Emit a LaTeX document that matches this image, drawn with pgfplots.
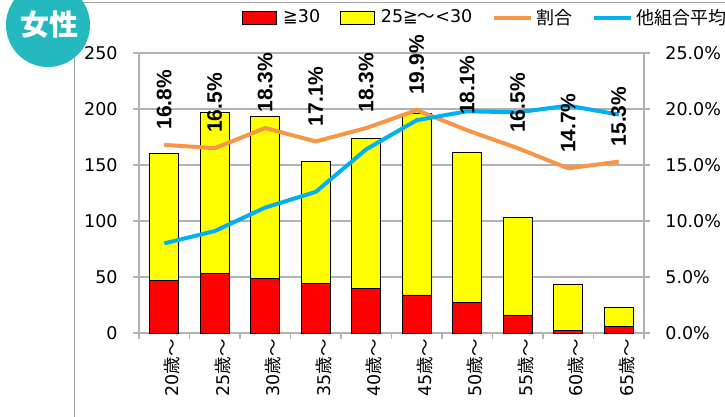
\documentclass[border=0pt]{standalone}
\usepackage{pgfplots}
\usepackage{pgfplotstable}
\pgfplotsset{compat=1.18}
\usepackage{fontspec}
\setmainfont{DejaVu Sans}
\newfontfamily\jp{Noto Sans CJK JP}
\newfontfamily\lab{Liberation Sans}
\definecolor{redbar}{RGB}{255,0,0}
\definecolor{yelbar}{RGB}{255,255,0}
\definecolor{orng}{RGB}{247,150,70}
\definecolor{skyb}{RGB}{0,176,240}
\definecolor{badge}{RGB}{35,185,190}
\definecolor{gridg}{RGB}{178,178,178}
\definecolor{frameg}{RGB}{160,160,160}

\pgfplotstableread{
x red yel ratio avg
0 47 113 16.8 8.0
1 53 144 16.5 9.1
2 49 144 18.3 11.2
3 44 109 17.1 12.6
4 40 134 18.3 16.4
5 34 162 19.9 19.0
6 27 134 18.1 19.8
7 16 87 16.5 19.7
8 2 41 14.7 20.3
9 6 17 15.3 19.5
}\data

\pgfplotsset{
  boxlegend/.style={legend image code/.code={\draw[##1] (0pt,-3.25pt) rectangle (17pt,3.25pt); \path (18.5pt,0pt);}},
  linelegend/.style={legend image code/.code={\draw[##1] (0pt,0pt) -- (18.5pt,0pt);}},
  common/.style={
    at={(69.5pt,-166.5pt)}, anchor=south west,
    scale only axis, width=252.5pt, height=140pt,
    xmin=-0.5, xmax=9.5,
    axis line style={gridg, line width=0.6pt},
    tick style={gridg, line width=0.6pt},
    tick align=outside,
    major tick length=3pt, minor tick length=3pt,
    ticklabel style={font=\fontsize{8.75pt}{10pt}\selectfont},
    /pgf/number format/assume math mode=true,
  }
}

\begin{document}
\begin{tikzpicture}
\useasboundingbox (0,0) rectangle (362.5pt,-208.5pt);
\begin{scope}[x=0.5pt,y=-0.5pt]
\draw[frameg, line width=0.5pt] (74,417) -- (74,3) -- (725,3);
\end{scope}

\begin{axis}[common,
  ymin=0, ymax=250,
  ybar stacked, bar width=14.5pt,
  xtick={0,...,9},
  xticklabels={20{\jp 歳～},25{\jp 歳～},30{\jp 歳～},35{\jp 歳～},40{\jp 歳～},45{\jp 歳～},50{\jp 歳～},55{\jp 歳～},60{\jp 歳～},65{\jp 歳～}},
  major x tick style={draw=none},
  minor xtick={-0.5,0.5,...,9.5},
  xticklabel style={rotate=90, anchor=east, inner sep=0pt, yshift=-4pt},
  ytick={0,50,...,250},
  yticklabel style={anchor=east, inner sep=0pt, xshift=-7.5pt},
  ymajorgrids, grid style={gridg, line width=0.6pt},
  axis y line*=left, axis x line*=bottom,
]
\addplot[fill=redbar, draw=black, line width=0.4pt] table[x=x,y=red]{\data};
\addplot[fill=yelbar, draw=black, line width=0.4pt] table[x=x,y=yel]{\data};
\end{axis}

\begin{axis}[common,
  ymin=0, ymax=25,
  axis y line*=right, axis x line=none,
  ytick={0,5,...,25},
  yticklabel={\pgfmathprintnumber[fixed,fixed zerofill,precision=1]{\tick}\%},
  yticklabel style={anchor=west, inner sep=0pt, xshift=7.5pt},
  legend columns=4,
  legend style={draw=none, fill=none, inner sep=0pt, at={(0.204,1.125)}, anchor=west,
    font=\fontsize{8.75pt}{10pt}\selectfont,
    nodes={inner xsep=1.5pt, inner ysep=1pt},
    /tikz/every even column/.append style={column sep=8.5pt}},
]
\addlegendimage{fill=redbar, draw=black, line width=0.4pt, boxlegend}
\addlegendimage{fill=yelbar, draw=black, line width=0.4pt, boxlegend}
\addlegendimage{orng, line width=2pt, linelegend}
\addlegendimage{skyb, line width=2pt, linelegend}
\addplot[orng, line width=2pt, forget plot] table[x=x,y=ratio]{\data};
\addplot[skyb, line width=2pt, forget plot] table[x=x,y=avg]{\data};
\addplot[draw=none, forget plot,
  nodes near coords={\pgfmathprintnumber[fixed,fixed zerofill,precision=1]{\pgfplotspointmeta}\%},
  every node near coord/.append style={rotate=90, anchor=west, text=black,
    font=\lab\bfseries\fontsize{10.5pt}{12pt}\selectfont, inner xsep=7.5pt, inner ysep=0pt},
] table[x=x,y=ratio]{\data};
\legend{≧30, 25≧{\jp ～}<30, {\jp\fontsize{9pt}{10pt}\selectfont 割合}, {\jp\fontsize{9pt}{10pt}\selectfont 他組合平均}}
\end{axis}

\begin{scope}[x=0.5pt,y=-0.5pt]
\fill[badge] (48,25) circle (42);
\node[text=white, font=\jp\bfseries\fontsize{14.5pt}{16pt}\selectfont, inner sep=0pt] at (49,25) {女性};
\end{scope}
\end{tikzpicture}
\end{document}
